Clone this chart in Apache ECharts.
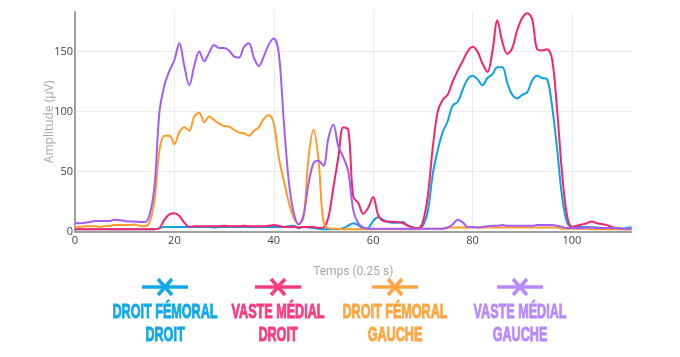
<!DOCTYPE html>
<html>
<head>
<meta charset="utf-8">
<script src="https://cdn.jsdelivr.net/npm/echarts@6/dist/echarts.min.js"></script>
<style>html,body{margin:0;padding:0;background:#fff;}#chart{width:680px;height:357px;}</style>
</head>
<body>
<div id="chart"></div>
<script>
// Sample index (x, one sample = 0.25 s) is the position in each array.
const droitFemoralDroit = [
  2,2,2,2,2,2,2,2,2,2,2,2,2,2,2,2,2,
  3,4,4,4,4,4,4,4,4,4,4,3.5,4,4,4,4,4,4,4,4,4,4,4,4,4,4,4.5,5,3,4,3.5,3,2.5,2,2,2,2,3,5,7,5.5,2.5,3,
  9,12,10,8,7.5,7.5,8,5,3.5,3,5,17,48,68,83,92,105,108,118,127,130,127,122,128,131,137,137,124,114,111,
  114,116,126,130,128,127,105,70,30,8,4,4,4,4,3.5,3.5,3,3,3,2.5,2.5,3,4
];
const vasteMedialDroit = [
  2,2,2,2,2,2,2,2,2,2,2,2,2,2,2,2,2,
  3,10,14.5,15.3,13,7.5,4,4.5,4.5,4.5,4.5,4.5,4.5,5,4.5,4.5,4.5,5,4.5,4.5,4.5,4.5,5,5.5,5,4,4,4,3.5,4,4,4,3,3.5,
  12,37,62,87,85,29,24,15,20,29,14,9,8.5,8.3,8,7,5,3.5,3,8,30,70,100,110,114,125,134,142,150,154,150,140,133,150,176,158,148,153,168,178,
  182,177,152,151,152,144,103,50,14,4,5,6,7,8.5,7,6.5,5.5,4,3,2.5,2,2
];
const droitFemoralGauche = [
  3.5,4,4.5,4.5,4.5,4,4.5,5,5.5,5.5,5.5,5.5,6,5,4.5,8,26,68,80,80,73,83,87,84,96,99,91,96,93,90,
  88,87.5,85,82.5,82,80,84,87,94,97,90,62,43,25,12,6.5,12,62,85,60,8,3,2.5,2.5,2,2,2,2,2,2,
  2,2,2,2,2,2,2,2,2,2,2.5,2.5,2.5,2.5,2.5,3.5,3.5,3.5,3.5,3.5,3.5,3.5,3.5,3.5,3.5,3.5,3.5,3.5,3.5,3.5,
  3.5,3.5,3.5,3.5,3.5,3.5,3.5,3.5,2.5,2.5,2.5,2.5,2.5,2.5,2,2,2,2,2,2,2,2,2
];
const vasteMedialGauche = [
  7,7,7.5,8,9,9,9,9,10,9.5,9,8.5,8.5,8,8,14,38,100,122,134,143,157,138,122,138,150,142,149,155.5,153,
  153,151,146,145,154,157,145,138,146,156,161,149,93,43,16,6,14,40,57,59,55,78,89,71,62,50,18,7,3.5,2.5,
  2.5,2.5,2.5,2.5,2.5,2.5,2.5,2.5,2.5,2.5,2.5,2.5,2.5,2.5,2.5,3.5,6,10,8,4,4,3.5,4,4.5,5,5,5.5,5,5,5,
  5,5,5,5.5,5.5,5.5,5.5,5,4,3,3,3,3,3.5,3.5,3,3,3,3,3,2.5,2.5,2.5
];
const seriesNames = ['Droit fémoral droit', 'Vaste médial droit', 'Droit fémoral gauche', 'Vaste médial gauche'];
const legendLabels = ['DROIT FÉMORAL\nDROIT', 'VASTE MÉDIAL\nDROIT', 'DROIT FÉMORAL\nGAUCHE', 'VASTE MÉDIAL\nGAUCHE'];
const yTicks = [0, 50, 100, 150];
const xTicks = [0, 20, 40, 60, 80, 100];
const xAxisTitle = 'Temps (0.25 s)';
const yAxisTitle = 'Amplitude (µV)';

const lineColors = ['#0fa0e6', '#f5246c', '#ff9b2b', '#a45cf6'];
const legendColors = ['#13a8ea', '#fd3c80', '#ffa541', '#b98aff'];
const allData = [droitFemoralDroit, vasteMedialDroit, droitFemoralGauche, vasteMedialGauche];

const chart = echarts.init(document.getElementById('chart'), null, {renderer: 'canvas'});

const legendCenters = [165, 278, 395, 520];
const graphics = [];
legendLabels.forEach((lab, i) => {
  const cx = legendCenters[i], cy = 287, c = legendColors[i];
  graphics.push({type: 'line', shape: {x1: cx - 23, y1: cy, x2: cx + 23, y2: cy}, style: {stroke: c, lineWidth: 3.5}, silent: true});
  graphics.push({type: 'line', shape: {x1: cx - 7, y1: cy - 8, x2: cx + 7, y2: cy + 8}, style: {stroke: c, lineWidth: 3.5}, silent: true});
  graphics.push({type: 'line', shape: {x1: cx + 7, y1: cy - 8, x2: cx - 7, y2: cy + 8}, style: {stroke: c, lineWidth: 3.5}, silent: true});
  graphics.push({type: 'text', x: cx, y: 301, scaleX: 0.6, style: {text: lab, fill: c, stroke: c, lineWidth: 1, font: 'bold 21px "Liberation Sans", Arial, sans-serif', align: 'center', verticalAlign: 'top', lineHeight: 23}, silent: true});
});

const option = {
  animation: false,
  backgroundColor: '#fff',
  grid: {left: 75, right: 48.5, top: 12, bottom: 125.3, containLabel: false},
  legend: {show: false, data: seriesNames},
  xAxis: {
    type: 'value', min: 0, max: 112, interval: 20,
    name: xAxisTitle, nameLocation: 'middle', nameGap: 34, nameMoveOverlap: false,
    nameTextStyle: {color: '#a8a8a8', fontSize: 12, fontFamily: 'Roboto'},
    axisLine: {show: true, onZero: false, lineStyle: {color: '#a0a0a0', width: 2}},
    axisTick: {show: false},
    axisLabel: {color: '#444', fontSize: 11, fontFamily: 'Open Sans', margin: 4, showMaxLabel: false,
      formatter: v => (xTicks.indexOf(v) >= 0 ? String(v) : '')},
    splitLine: {show: true, showMaxLine: false, lineStyle: {color: '#ececec', width: 1}}
  },
  yAxis: {
    type: 'value', min: 0, max: 183, interval: 50,
    name: yAxisTitle, nameLocation: 'middle', nameGap: 19, nameRotate: 90, nameMoveOverlap: false,
    nameTextStyle: {color: '#a8a8a8', fontSize: 12, fontFamily: 'Open Sans'},
    axisLine: {show: true, onZero: false, lineStyle: {color: '#a0a0a0', width: 2}},
    axisTick: {show: false},
    axisLabel: {color: '#444', fontSize: 11, fontFamily: 'Open Sans', margin: 2, showMaxLabel: false,
      formatter: v => (yTicks.indexOf(v) >= 0 ? String(v) : '')},
    splitLine: {show: true, showMaxLine: false, lineStyle: {color: '#ececec', width: 1}}
  },
  series: allData.map((arr, i) => ({
    name: seriesNames[i], type: 'line', smooth: 0.35, showSymbol: false, clip: true,
    lineStyle: {color: lineColors[i], width: 2}, itemStyle: {color: lineColors[i]},
    data: arr.map((v, k) => [k, v])
  })),
  graphic: graphics
};
chart.setOption(option);
</script>
</body>
</html>
